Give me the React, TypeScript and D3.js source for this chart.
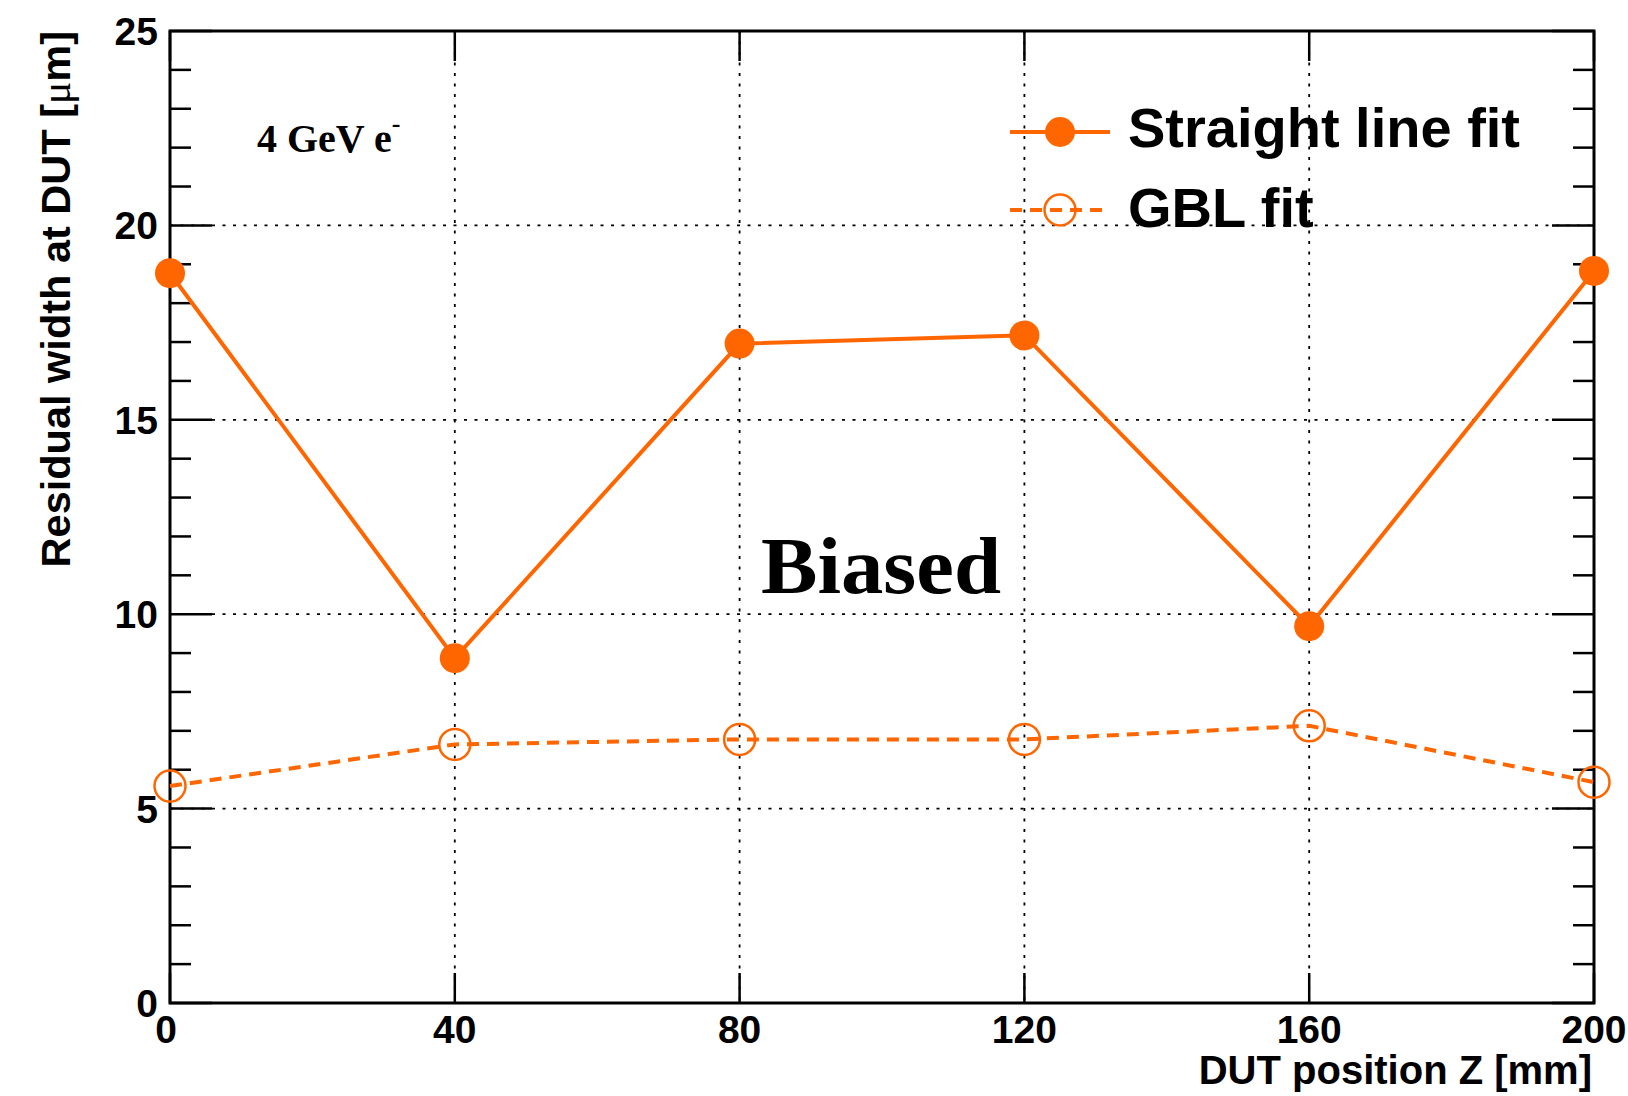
import * as d3 from 'd3';

// DUT positions along the beam [mm]
const positions = [0, 40, 80, 120, 160, 200];
// residual widths [um]
const straightLine = [18.77, 8.87, 16.96, 17.17, 9.69, 18.83];
const gblFit = [5.58, 6.65, 6.78, 6.78, 7.13, 5.68];

const xTicks = [0, 40, 80, 120, 160, 200];
const yMajor = [0, 5, 10, 15, 20, 25];
const yMinor = d3.range(0, 26, 1);

const orange = '#ff6600';
const sans = '"Liberation Sans", Arial, Helvetica, sans-serif';
const serif = '"Liberation Serif", "Times New Roman", serif';

const W = 1628;
const H = 1096;
const frame = { left: 170, right: 1594, top: 31, bottom: 1003 };

export default function App() {
  const x = d3.scaleLinear().domain([0, 200]).range([frame.left, frame.right]);
  const y = d3.scaleLinear().domain([0, 25]).range([frame.bottom, frame.top]);

  const line = d3
    .line<number>()
    .x((_, i) => x(positions[i]))
    .y((d) => y(d));

  return (
    <svg
      width={W}
      height={H}
      style={{ position: 'absolute', left: 0, top: 0, background: 'white' }}
    >
      {/* grid */}
      <g stroke="black" strokeWidth={1.8} strokeDasharray="3,7.5">
        {xTicks.slice(1, -1).map((t) => (
          <line key={'gx' + t} x1={x(t)} x2={x(t)} y1={frame.top} y2={frame.bottom} />
        ))}
        {yMajor.slice(1, -1).map((t) => (
          <line key={'gy' + t} x1={frame.left} x2={frame.right} y1={y(t)} y2={y(t)} />
        ))}
      </g>

      {/* ticks */}
      <g stroke="black" strokeWidth={2.5}>
        {yMinor.map((t) => {
          const len = t % 5 === 0 ? 42 : 21;
          return (
            <g key={'ty' + t}>
              <line x1={frame.left} x2={frame.left + len} y1={y(t)} y2={y(t)} />
              <line x1={frame.right} x2={frame.right - len} y1={y(t)} y2={y(t)} />
            </g>
          );
        })}
        {xTicks.map((t) => (
          <g key={'tx' + t}>
            <line x1={x(t)} x2={x(t)} y1={frame.bottom} y2={frame.bottom - 30} />
            <line x1={x(t)} x2={x(t)} y1={frame.top} y2={frame.top + 30} />
          </g>
        ))}
      </g>

      {/* frame */}
      <rect
        x={frame.left}
        y={frame.top}
        width={frame.right - frame.left}
        height={frame.bottom - frame.top}
        fill="none"
        stroke="black"
        strokeWidth={3}
      />

      {/* tick labels */}
      <g fontFamily={sans} fontWeight="bold" fontSize={39} fill="black">
        {yMajor.map((t) => (
          <text key={'ly' + t} x={158} y={y(t) + 14} textAnchor="end">
            {t}
          </text>
        ))}
        {xTicks.map((t) => (
          <text key={'lx' + t} x={x(t) - (t === 0 ? 4 : 0)} y={1043} textAnchor="middle">
            {t}
          </text>
        ))}
      </g>

      {/* axis titles */}
      <text
        x={1592}
        y={1084}
        textAnchor="end"
        fontFamily={sans}
        fontWeight="bold"
        fontSize={40}
      >
        DUT position Z [mm]
      </text>
      <text
        transform={`translate(70, ${frame.top}) rotate(-90)`}
        textAnchor="end"
        fontFamily={sans}
        fontWeight="bold"
        fontSize={41.5}
      >
        Residual width at DUT [<tspan fontFamily={serif} fontWeight="normal">μ</tspan>m]
      </text>

      {/* annotations */}
      <text x={257} y={152} fontFamily={serif} fontWeight="bold" fontSize={40}>
        4 GeV e<tspan dy={-20} fontSize={26}>-</tspan>
      </text>
      <text
        x={761}
        y={593}
        fontFamily={serif}
        fontWeight="bold"
        fontSize={80}
        textLength={240}
        lengthAdjust="spacingAndGlyphs"
      >
        Biased
      </text>

      {/* series */}
      <path d={line(straightLine) ?? ''} fill="none" stroke={orange} strokeWidth={4} />
      <path
        d={line(gblFit) ?? ''}
        fill="none"
        stroke={orange}
        strokeWidth={4}
        strokeDasharray="12,8"
      />
      {straightLine.map((v, i) => (
        <circle key={'s' + i} cx={x(positions[i])} cy={y(v)} r={15} fill={orange} />
      ))}
      {gblFit.map((v, i) => (
        <circle
          key={'g' + i}
          cx={x(positions[i])}
          cy={y(v)}
          r={15.5}
          fill="none"
          stroke={orange}
          strokeWidth={2.5}
        />
      ))}

      {/* legend */}
      <g>
        <line x1={1010} x2={1110} y1={132} y2={132} stroke={orange} strokeWidth={4} />
        <circle cx={1060} cy={132} r={15} fill={orange} />
        <text x={1128} y={147} fontFamily={sans} fontWeight="bold" fontSize={56}>
          Straight line fit
        </text>
        <line
          x1={1010}
          x2={1110}
          y1={210}
          y2={210}
          stroke={orange}
          strokeWidth={4}
          strokeDasharray="12,8"
        />
        <circle cx={1060} cy={210} r={15.5} fill="none" stroke={orange} strokeWidth={2.5} />
        <text x={1128} y={227} fontFamily={sans} fontWeight="bold" fontSize={56}>
          GBL fit
        </text>
      </g>
    </svg>
  );
}
